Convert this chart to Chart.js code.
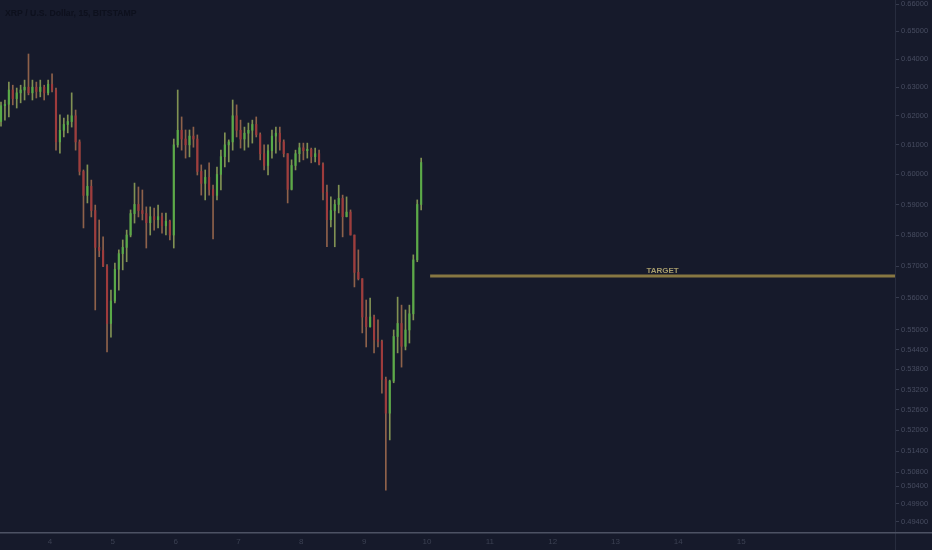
<!DOCTYPE html>
<html><head><meta charset="utf-8">
<script src="https://cdn.jsdelivr.net/npm/chart.js@4.4.1/dist/chart.umd.min.js"></script>
<style>html,body{margin:0;padding:0;background:#161a2b;overflow:hidden}canvas{display:block}</style>
</head><body>
<canvas id="c" width="932" height="550"></canvas>
<script>
const chartTitle = 'XRP / U.S. Dollar, 15, BITSTAMP';
const targetLabel = 'TARGET';
const startDay = 3.22;
const stepDay = 1 / 16;
const firstOpen = 0.6180;
const highs = [
 .6248,.6255,.6318,.6307,.6297,.6307,.6325,.6418,.6325,.6318,
 .6325,.6307,.6325,.6347,.6297,.6203,.6192,.6203,.6280,.6220,
 .6117,.6015,.6032,.5981,.5898,.5849,.5794,.5705,.5624,.5710,
 .5752,.5784,.5816,.5882,.5971,.5958,.5948,.5892,.5892,.5888,
 .5898,.5872,.5872,.5849,.6120,.6290,.6196,.6151,.6151,.6161,
 .6134,.6032,.6015,.6039,.5964,.6025,.6082,.6141,.6117,.6255,
 .6238,.6185,.6161,.6175,.6185,.6196,.6141,.6100,.6100,.6151,
 .6161,.6161,.6117,.6070,.6049,.6082,.6106,.6106,.6106,.6089,
 .6089,.6082,.6039,.5964,.5925,.5915,.5964,.5931,.5925,.5882,
 .5800,.5752,.5660,.5593,.5599,.5546,.5531,.5469,.5357,.5348,
 .5500,.5602,.5577,.5562,.5577,.5736,.5915,.6055];
const lows = [
 .6164,.6185,.6196,.6238,.6227,.6245,.6255,.6273,.6255,.6262,
 .6266,.6255,.6273,.6283,.6082,.6072,.6127,.6141,.6161,.6082,
 .5998,.5823,.5905,.5859,.5562,.5730,.5698,.5433,.5478,.5584,
 .5624,.5688,.5714,.5794,.5839,.5859,.5849,.5758,.5800,.5816,
 .5823,.5806,.5800,.5784,.5758,.6092,.6082,.6055,.6059,.6092,
 .5998,.5931,.5915,.5931,.5787,.5915,.5948,.6025,.6042,.6082,
 .6127,.6089,.6082,.6092,.6106,.6127,.6049,.6015,.5998,.6055,
 .6072,.6082,.6059,.5905,.5948,.6015,.6042,.6049,.6055,.6039,
 .6042,.6032,.5915,.5762,.5826,.5762,.5872,.5794,.5859,.5800,
 .5634,.5656,.5491,.5448,.5509,.5430,.5448,.5309,.5029,.5172,
 .5340,.5430,.5387,.5439,.5460,.5531,.5714,.5882];
const closes = [
 .6235,.6240,.6290,.6260,.6280,.6290,.6300,.6280,.6300,.6285,
 .6300,.6280,.6310,.6290,.6110,.6150,.6170,.6180,.6200,.6110,
 .6010,.5930,.5960,.5880,.5760,.5750,.5700,.5520,.5590,.5690,
 .5740,.5760,.5800,.5870,.5900,.5880,.5870,.5840,.5860,.5850,
 .5860,.5830,.5845,.5800,.6100,.6150,.6120,.6100,.6130,.6120,
 .6010,.5970,.5990,.5950,.5930,.6000,.6060,.6100,.6110,.6200,
 .6150,.6120,.6140,.6150,.6170,.6135,.6070,.6030,.6080,.6130,
 .6140,.6110,.6070,.5950,.6030,.6070,.6090,.6080,.6085,.6060,
 .6070,.6035,.5940,.5850,.5880,.5900,.5920,.5860,.5875,.5800,
 .5680,.5660,.5540,.5510,.5540,.5470,.5465,.5350,.5250,.5345,
 .5480,.5520,.5450,.5500,.5550,.5720,.5900,.6040];
const targetPrice = 0.5669;
const targetFrom = 10.05;
const xTickDays = [4, 5, 6, 7, 8, 9, 10, 11, 12, 13, 14, 15];
const yTickValues = [0.66, 0.65, 0.64, 0.63, 0.62, 0.61, 0.60, 0.59, 0.58, 0.57, 0.56, 0.55,
  0.544, 0.538, 0.532, 0.526, 0.520, 0.514, 0.508, 0.504, 0.499, 0.494];
const xMin = 3.204, xMax = 17.449;
const yMin = 0.49124, yMax = 0.66148;

const BG = '#161a2b';
const upBody = 'rgba(88,172,72,0.95)', downBody = 'rgba(160,58,60,0.95)';
const upWick = 'rgba(140,158,88,0.9)', downWick = 'rgba(155,105,78,0.9)';

const times = highs.map((_, i) => startDay + i * stepDay);
const opens = closes.map((c, i) => i === 0 ? firstOpen : closes[i - 1]);
const isUp = closes.map((c, i) => c >= opens[i]);

Chart.defaults.font.family = '"Liberation Sans", Arial, sans-serif';

const deco = {
  id: 'deco',
  beforeDraw(chart) {
    const { ctx, width, height } = chart;
    ctx.save(); ctx.fillStyle = BG; ctx.fillRect(0, 0, width, height); ctx.restore();
  },
  afterDraw(chart) {
    const { ctx, chartArea, width, height } = chart;
    const xs = chart.scales.x, ys = chart.scales.y;
    ctx.save();
    ctx.strokeStyle = '#272c3e'; ctx.lineWidth = 1;
    ctx.beginPath(); ctx.moveTo(chartArea.right + 0.5, 0); ctx.lineTo(chartArea.right + 0.5, height); ctx.stroke();
    ctx.strokeStyle = '#4d5264'; ctx.lineWidth = 1.5;
    ctx.beginPath(); ctx.moveTo(0, chartArea.bottom + 0.75); ctx.lineTo(width, chartArea.bottom + 0.75); ctx.stroke();
    ctx.font = 'bold 8.7px "Liberation Sans", Arial, sans-serif';
    ctx.fillStyle = '#0d101d'; ctx.textAlign = 'left'; ctx.textBaseline = 'alphabetic';
    ctx.fillText(chartTitle, 5, 16);
    const x0 = xs.getPixelForValue(targetFrom), x1 = xs.getPixelForValue(xMax);
    const yp = ys.getPixelForValue(targetPrice);
    ctx.font = 'bold 8px "Liberation Sans", Arial, sans-serif';
    ctx.fillStyle = '#a69c6c'; ctx.textAlign = 'center';
    ctx.fillText(targetLabel, (x0 + x1) / 2, yp - 2.5);
    ctx.restore();
  }
};

new Chart(document.getElementById('c'), {
  type: 'bar',
  data: {
    datasets: [
      {
        label: 'wick',
        data: times.map((t, i) => ({ x: t, y: [lows[i], highs[i]] })),
        backgroundColor: isUp.map(u => u ? upWick : downWick),
        barThickness: 1, grouped: false, borderWidth: 0, order: 2
      },
      {
        label: 'body',
        data: times.map((t, i) => ({ x: t, y: [Math.min(opens[i], closes[i]), Math.max(opens[i], closes[i])] })),
        backgroundColor: isUp.map(u => u ? upBody : downBody),
        barThickness: 1.5, grouped: false, borderWidth: 0, order: 1
      },
      {
        type: 'line', label: 'target',
        data: [{ x: targetFrom, y: targetPrice }, { x: xMax, y: targetPrice }],
        borderColor: '#877742', borderWidth: 3, pointRadius: 0, order: 0
      }
    ]
  },
  options: {
    responsive: false, animation: false, devicePixelRatio: 1,
    layout: { padding: 0 },
    plugins: { legend: { display: false }, tooltip: { enabled: false } },
    scales: {
      x: {
        type: 'linear', min: xMin, max: xMax, offset: false,
        grid: { display: false, drawTicks: false, offset: false }, border: { display: false },
        ticks: { color: '#3b4052', font: { size: 8 }, padding: 5, maxRotation: 0, autoSkip: false, callback: v => String(v) },
        afterBuildTicks: s => { s.ticks = xTickDays.map(v => ({ value: v })); },
        afterFit: s => { s.height = 18; s.paddingLeft = 0; s.paddingRight = 0; }
      },
      y: {
        type: 'logarithmic', position: 'right', min: yMin, max: yMax,
        grid: { drawOnChartArea: false, drawTicks: true, tickLength: 4, color: '#363b4e' },
        border: { display: false },
        ticks: { color: '#474c60', font: { size: 7.5 }, padding: 2, autoSkip: false, callback: v => Number(v).toFixed(5) },
        afterBuildTicks: s => { s.ticks = yTickValues.map(v => ({ value: v })); },
        afterFit: s => { s.width = 37; s.paddingTop = 0; s.paddingBottom = 0; }
      }
    }
  },
  plugins: [deco]
});
</script>
</body></html>
